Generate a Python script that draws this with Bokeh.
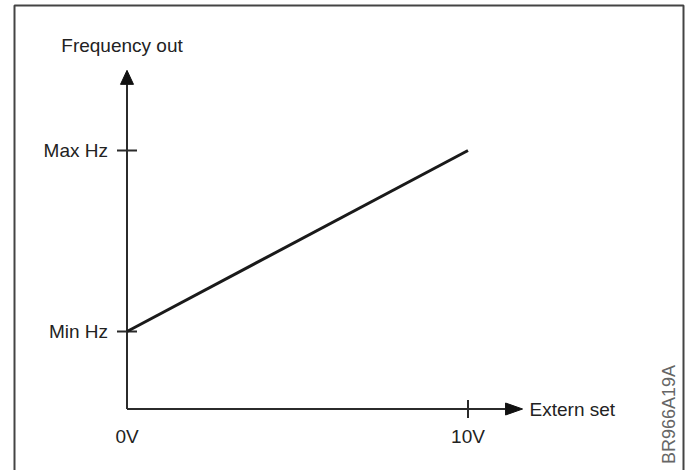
import math
from bokeh.plotting import figure
from bokeh.models import Range1d
from bokeh.core.properties import value
from bokeh.embed import file_html
from bokeh.resources import INLINE

# ---- data ----
volts = [0, 10]                 # Extern set: 0V .. 10V
freq = [3, 10]                  # Frequency out: Min Hz .. Max Hz (relative units)
y_tick_vals = [3, 10]
y_tick_labels = ["Min Hz", "Max Hz"]
x_label_vals = [0, 10]
x_label_texts = ["0V", "10V"]
x_tick_vals = [10]
x_axis_end = 11.6
y_axis_end = 13.1
x_title = "Extern set"
y_title = "Frequency out"
code_text = "BR966A19A"

# ---- geometry ----
W, H = 690, 470
PX_V = 34.1      # pixels per volt
PX_U = 25.85     # pixels per frequency unit
X0 = 126.5       # px from left edge to 0V
Y0 = 61.5        # px from bottom edge to zero


def sx(px):
    return px / PX_V


def sy(px):
    return px / PX_U


def ax(px_left):
    return (px_left - X0) / PX_V


def ay(px_top):
    return ((H - px_top) - Y0) / PX_U


FONT = value("Liberation Sans")
AXIS_COLOR = "#2b2b2b"
TEXT_COLOR = "#222222"

p = figure(width=W, height=H, output_backend="svg", toolbar_location=None,
           x_range=Range1d(-X0 / PX_V, (W - X0) / PX_V),
           y_range=Range1d(-Y0 / PX_U, (H - Y0) / PX_U),
           x_axis_type=None, y_axis_type=None, min_border=0,
           outline_line_color=None, background_fill_color="white",
           border_fill_color="white")
p.grid.visible = False

# outer frame (open at bottom)
p.line([ax(14), ax(14), ax(683), ax(683)], [ay(472), ay(5), ay(5), ay(472)],
       line_color="#444444", line_width=2)

# axes
YH_LEN, YH_W = 14, 13
XH_LEN, XH_W = 17, 12
p.line([0, 0], [0, y_axis_end - sy(YH_LEN)], line_color=AXIS_COLOR, line_width=2)
p.line([0, x_axis_end - sx(XH_LEN)], [0, 0], line_color=AXIS_COLOR, line_width=2)
p.patch([-sx(YH_W / 2), 0, sx(YH_W / 2)],
        [y_axis_end - sy(YH_LEN), y_axis_end, y_axis_end - sy(YH_LEN)],
        fill_color="#111111", line_color="#111111", line_width=1)
p.patch([x_axis_end - sx(XH_LEN), x_axis_end, x_axis_end - sx(XH_LEN)],
        [sy(XH_W / 2), 0, -sy(XH_W / 2)],
        fill_color="#111111", line_color="#111111", line_width=1)

# ticks
p.segment(x0=[-sx(10)] * len(y_tick_vals), y0=y_tick_vals,
          x1=[sx(10)] * len(y_tick_vals), y1=y_tick_vals,
          line_color=AXIS_COLOR, line_width=2)
p.segment(x0=x_tick_vals, y0=[-sy(9)] * len(x_tick_vals),
          x1=x_tick_vals, y1=[sy(9)] * len(x_tick_vals),
          line_color=AXIS_COLOR, line_width=2)

# data line
p.line(volts, freq, line_color="#1a1a1a", line_width=3)

# labels
p.text(x=[-sx(19)] * len(y_tick_vals), y=y_tick_vals, text=y_tick_labels,
       text_align="right", text_baseline="middle", text_font=FONT,
       text_font_size="19px", text_color=TEXT_COLOR)
p.text(x=x_label_vals, y=[-sy(27)] * len(x_label_vals), text=x_label_texts,
       text_align="center", text_baseline="middle", text_font=FONT,
       text_font_size="19px", text_color=TEXT_COLOR)
p.text(x=[-sx(5)], y=[y_axis_end + sy(25)], text=[y_title],
       text_align="center", text_baseline="middle", text_font=FONT,
       text_font_size="19px", text_color=TEXT_COLOR)
p.text(x=[x_axis_end + sx(7)], y=[0], text=[x_title],
       text_align="left", text_baseline="middle", text_font=FONT,
       text_font_size="19px", text_color=TEXT_COLOR)
p.text(x=[ax(668)], y=[ay(414)], text=[code_text], angle=math.pi / 2,
       text_align="center", text_baseline="middle", text_font=FONT,
       text_font_size="18px", text_color="#666666")

open("out.html", "w").write(file_html(p, INLINE))
